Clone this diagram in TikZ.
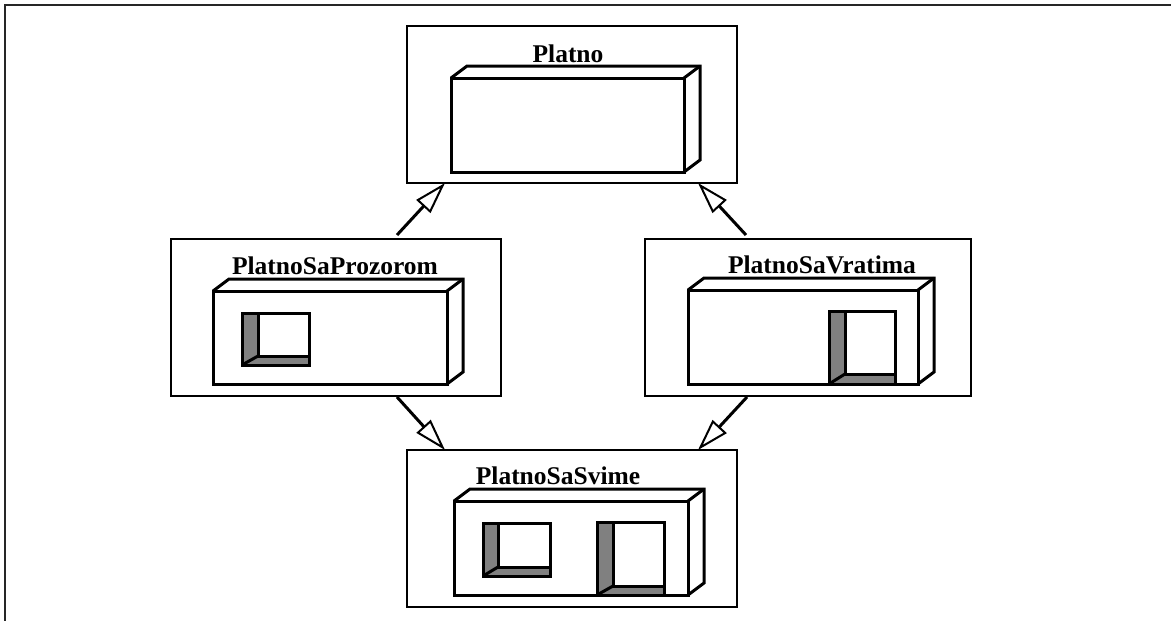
\documentclass[tikz,border=0pt]{standalone}
\usepackage{fontspec}
\setmainfont{Liberation Serif}
\usetikzlibrary{arrows.meta}

% a 3D slab: front face (x1,y1)-(x2,y2), depth going right and up
\newcommand\slab[4]{%
  \draw[slabline] (#1,#2) rectangle (#3,#4);
  \draw[slabline] (#1,#2) -- ++(16,-12) -- (#3+16,#2-12) -- (#3+16,#4-12) -- (#3,#4);
  \draw[slabline] (#3,#2) -- ++(16,-12);
}
% an opening cut into a slab, with shaded left jamb and sill
% #1 outer left, #2 top, #3 inner left, #4 inner bottom, #5 right, #6 bottom
\newcommand\opening[6]{%
  \fill[jamb] (#1,#2) -- (#3,#2) -- (#3,#4) -- (#5,#4) -- (#5,#6) -- (#1,#6) -- cycle;
  \draw[slabline] (#1,#2) rectangle (#5,#6);
  \draw[slabline] (#3,#2) -- (#3,#4) -- (#5,#4);
  \draw[slabline] (#1,#6) -- (#3,#4);
}

\definecolor{jambgray}{RGB}{128,128,128}

\tikzset{
  classbox/.style={draw, line width=1.6pt, minimum width=#1, minimum height=157pt,
                   inner sep=0pt, outer sep=0pt},
  slabline/.style={line width=3pt, line join=miter},
  jamb/.style={fill=jambgray},
  title/.style={anchor=base, inner sep=0pt, font=\fontsize{25.5}{30}\selectfont\bfseries},
  inherits/.style={line width=3pt,
    -{Triangle[open, length=32pt, width=19pt, line width=2pt]}},
  frameline/.style={line width=2pt, draw=black!85}
}

\begin{document}
\begin{tikzpicture}[x=1pt, y=-1pt]
\useasboundingbox (0,0) rectangle (1171,621);

% page frame
\draw[frameline] (5,621) -- (5,5) -- (1171,5);

% class boxes
\node[classbox=330pt] (platno) at (572,104.5) {};
\node[classbox=330pt] (pp) at (336,317.5) {};
\node[classbox=326pt] (pv) at (808,317.5) {};
\node[classbox=330pt] (ps) at (572,528.5) {};

% titles
\node[title] (tplatno) at (568,62) {Platno};
\node[title] (tpp) at (335,274) {PlatnoSaProzorom};
\node[title] (tpv) at (822,273) {PlatnoSaVratima};
\node[title] (tps) at (558,484) {PlatnoSaSvime};

% Platno: plain slab
\slab{451}{78}{684}{172}

% PlatnoSaProzorom: slab with a window
\slab{213}{291}{447}{384}
\opening{242}{313}{258}{356}{309}{365}

% PlatnoSaVratima: slab with a door
\slab{688}{290}{918}{384}
\opening{829}{311}{845}{374}{895}{384}

% PlatnoSaSvime: slab with window and door
\slab{454}{501}{688}{595}
\opening{483}{523}{498}{567}{550}{576}
\opening{597}{522}{613}{586}{664}{595}

% inheritance arrows
\draw[inherits] ([xshift=-104pt, yshift=4pt]pp.north east) -- ([xshift=38pt]platno.south west);
\draw[inherits] ([xshift=101pt, yshift=4pt]pv.north west) -- ([xshift=-39pt]platno.south east);
\draw[inherits] ([xshift=-104pt, yshift=-1pt]pp.south east) -- ([xshift=38pt]ps.north west);
\draw[inherits] ([xshift=102pt, yshift=-1pt]pv.south west) -- ([xshift=-39pt]ps.north east);
\end{tikzpicture}
\end{document}
